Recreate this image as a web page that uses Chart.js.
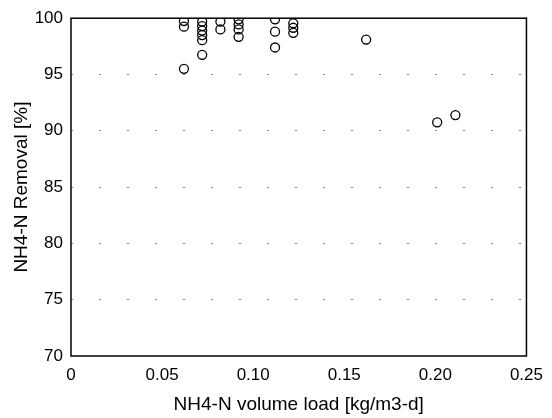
<!DOCTYPE html>
<html>
<head>
<meta charset="utf-8">
<script src="https://cdn.jsdelivr.net/npm/chart.js@4"></script>
<style>
  html, body { margin: 0; padding: 0; background: #fff; }
  #wrap { width: 552px; height: 418px; }
</style>
</head>
<body>
<div id="wrap"><canvas id="scatterChart" width="552" height="418"></canvas></div>
<script>
// volume load [kg/m3-d] and removal [%]
var loadX = [
  0.062, 0.062, 0.062,
  0.072, 0.072, 0.072, 0.072, 0.072, 0.072,
  0.082, 0.082,
  0.092, 0.092, 0.092, 0.092,
  0.112, 0.112, 0.112,
  0.122, 0.122, 0.122,
  0.162,
  0.201, 0.211
];
var removalY = [
  99.75, 99.25, 95.5,
  99.7, 99.3, 98.9, 98.5, 98.05, 96.75,
  99.7, 99.0,
  99.9, 99.45, 99.0, 98.35,
  99.9, 98.8, 97.4,
  99.55, 99.15, 98.7,
  98.1,
  90.75, 91.4
];
var xTicks = [0, 0.05, 0.1, 0.15, 0.2, 0.25];
var yTicks = [70, 75, 80, 85, 90, 95, 100];

var points = loadX.map(function (x, i) {
  return { x: x, y: removalY[i] };
});

// box around the plot area
var frame = {
  id: "frame",
  afterDraw: function (chart) {
    var a = chart.chartArea;
    var ctx = chart.ctx;
    ctx.save();
    ctx.strokeStyle = "#000";
    ctx.lineWidth = 1.5;
    ctx.strokeRect(a.left, a.top, a.right - a.left, a.bottom - a.top);
    ctx.restore();
  }
};

var tickFont = { family: "Liberation Sans, Arial, sans-serif", size: 17 };
var titleFont = { family: "Liberation Sans, Arial, sans-serif", size: 19 };

new Chart(document.getElementById("scatterChart").getContext("2d"), {
  type: "scatter",
  data: {
    datasets: [{
      data: points,
      pointStyle: "circle",
      pointRadius: 4.5,
      pointBorderWidth: 1.3,
      pointBorderColor: "#000",
      pointBackgroundColor: "rgba(255,255,255,0)"
    }]
  },
  options: {
    responsive: false,
    animation: false,
    layout: { padding: { top: 12, right: 25, left: 0, bottom: 0 } },
    plugins: { legend: { display: false }, tooltip: { enabled: false } },
    scales: {
      x: {
        type: "linear",
        min: 0,
        max: 0.25,
        afterBuildTicks: function (s) { s.ticks = xTicks.map(function (v) { return { value: v }; }); },
        afterFit: function (s) { s.height = 62; },
        grid: { display: false, drawTicks: false },
        border: { display: false },
        ticks: { color: "#000", font: tickFont, padding: 9, maxRotation: 0 },
        title: {
          display: true,
          text: "NH4-N volume load [kg/m3-d]",
          color: "#000",
          font: titleFont,
          padding: { top: 4, bottom: 2 }
        }
      },
      y: {
        min: 70,
        max: 100,
        afterBuildTicks: function (s) { s.ticks = yTicks.map(function (v) { return { value: v }; }); },
        afterFit: function (s) { s.width = 71; },
        grid: {
          color: function (c) { return (c.tick.value === 70 || c.tick.value === 100) ? "rgba(0,0,0,0)" : "#888"; },
          lineWidth: 1,
          drawTicks: false
        },
        border: { display: false, dash: [2, 26] },
        ticks: { color: "#000", font: tickFont, padding: 8 },
        title: {
          display: true,
          text: "NH4-N Removal [%]",
          color: "#000",
          font: titleFont,
          padding: { top: 10, bottom: 4 }
        }
      }
    }
  },
  plugins: [frame]
});
</script>
</body>
</html>
